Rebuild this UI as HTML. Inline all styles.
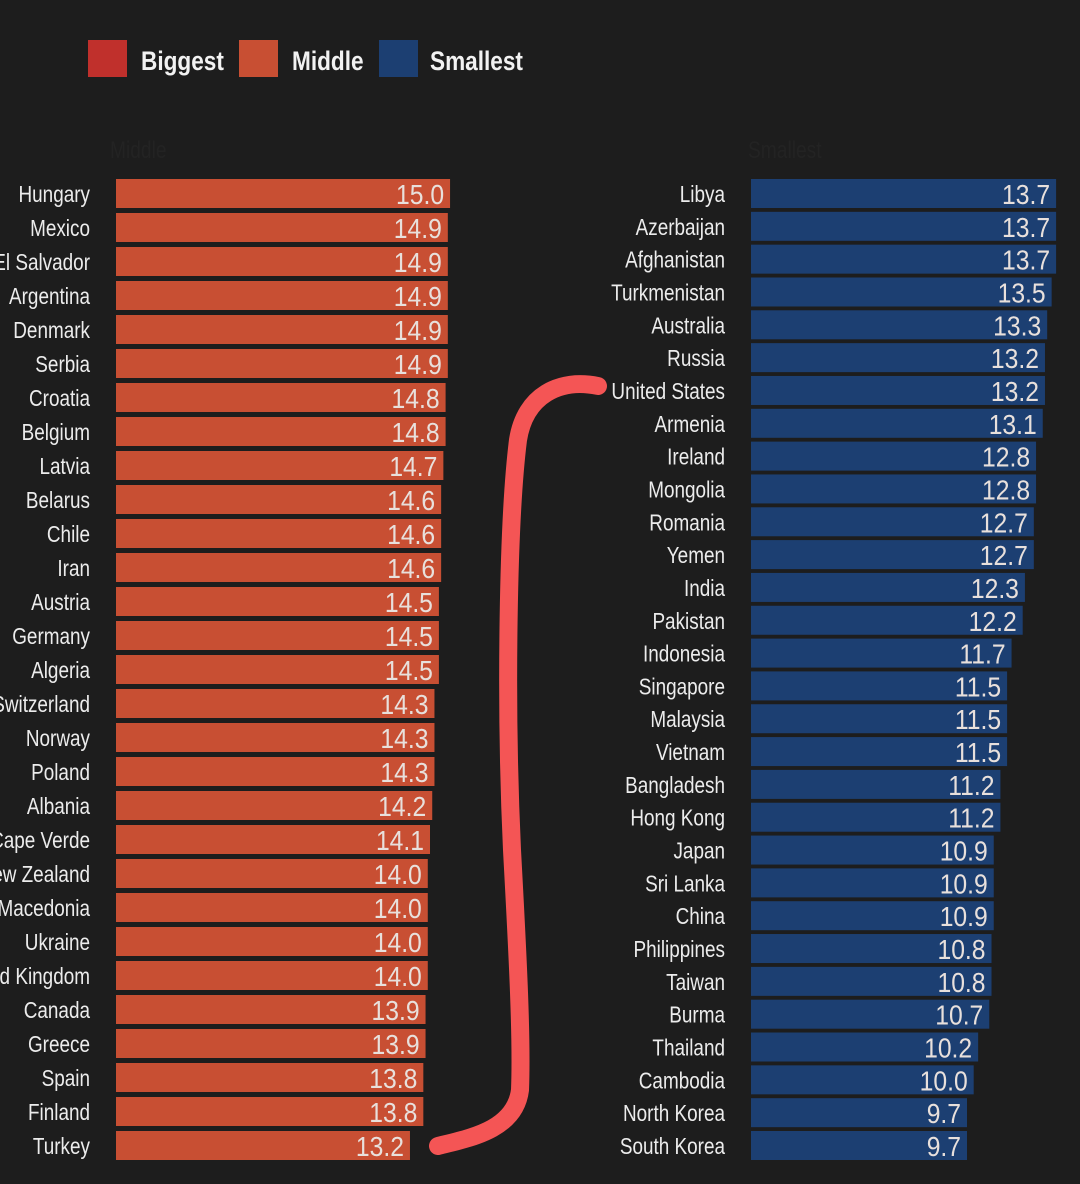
<!DOCTYPE html>
<html><head><meta charset="utf-8"><style>
html,body{margin:0;padding:0;background:#1d1d1d;}
svg{display:block;font-family:"Liberation Sans Narrow","Liberation Sans",sans-serif;}
</style></head><body>
<svg id="c" width="1080" height="1184" viewBox="0 0 1080 1184">
<rect width="1080" height="1184" fill="#1d1d1d"/>
<g>
<rect x="88" y="40" width="39" height="37" fill="#c0302c"/>
<text transform="translate(141,70) scale(0.87,1.05)" fill="#f2f2f2" font-size="26" font-weight="bold">Biggest</text>
<rect x="239" y="40" width="39" height="37" fill="#c84f33"/>
<text transform="translate(292,70) scale(0.87,1.05)" fill="#f2f2f2" font-size="26" font-weight="bold">Middle</text>
<rect x="379" y="40" width="39" height="37" fill="#1c3f72"/>
<text transform="translate(430,70) scale(0.87,1.05)" fill="#f2f2f2" font-size="26" font-weight="bold">Smallest</text>
</g>
<text transform="translate(110,158) scale(0.8,1)" fill="#232323" font-size="24">Middle</text>
<text transform="translate(748,158) scale(0.8,1)" fill="#232323" font-size="24">Smallest</text>
<g id="bars"></g>
<path d="M598,386 C560,378 525,395 518,440 C508,520 505,700 512,850 C518,960 522,1040 520,1090 C515,1130 470,1138 438,1146" fill="none" stroke="#f45555" stroke-width="18" stroke-linecap="round"/>
</svg>
<script>
const leftCountries=["Hungary","Mexico","El Salvador","Argentina","Denmark","Serbia","Croatia","Belgium","Latvia","Belarus","Chile","Iran","Austria","Germany","Algeria","Switzerland","Norway","Poland","Albania","Cape Verde","New Zealand","Macedonia","Ukraine","United Kingdom","Canada","Greece","Spain","Finland","Turkey"];
const leftValues=[15.0,14.9,14.9,14.9,14.9,14.9,14.8,14.8,14.7,14.6,14.6,14.6,14.5,14.5,14.5,14.3,14.3,14.3,14.2,14.1,14.0,14.0,14.0,14.0,13.9,13.9,13.8,13.8,13.2];
const rightCountries=["Libya","Azerbaijan","Afghanistan","Turkmenistan","Australia","Russia","United States","Armenia","Ireland","Mongolia","Romania","Yemen","India","Pakistan","Indonesia","Singapore","Malaysia","Vietnam","Bangladesh","Hong Kong","Japan","Sri Lanka","China","Philippines","Taiwan","Burma","Thailand","Cambodia","North Korea","South Korea"];
const rightValues=[13.7,13.7,13.7,13.5,13.3,13.2,13.2,13.1,12.8,12.8,12.7,12.7,12.3,12.2,11.7,11.5,11.5,11.5,11.2,11.2,10.9,10.9,10.9,10.8,10.8,10.7,10.2,10.0,9.7,9.7];
const NS="http://www.w3.org/2000/svg";
const g=document.getElementById('bars');
const unit=22.27;
function xLen(v){return v*unit;}
function yPos(i,n){return 194+i*(952/(n-1));}
function draw(countries,values,x0,labelX,color){
  const n=countries.length;
  countries.forEach((c,i)=>{
    const yc=yPos(i,n);
    const r=document.createElementNS(NS,'rect');
    r.setAttribute('x',x0);r.setAttribute('y',yc-15);
    r.setAttribute('width',xLen(values[i]));r.setAttribute('height',29);
    r.setAttribute('fill',color);
    
    
    g.appendChild(r);
    const t=document.createElementNS(NS,'text');
    t.setAttribute('transform','translate('+labelX+','+(yc+8)+') scale(0.86,1.05)');
    t.setAttribute('text-anchor','end');t.setAttribute('fill','#ececec');t.setAttribute('font-size','22');
    t.textContent=c;
    
    
    g.appendChild(t);
    const v=document.createElementNS(NS,'text');
    v.setAttribute('transform','translate('+(x0+xLen(values[i])-6)+','+(yc+10)+') scale(0.95,1.05)');
    v.setAttribute('text-anchor','end');v.setAttribute('fill','#e8e0dc');v.setAttribute('font-size','26');
    v.textContent=values[i].toFixed(1);
    
    
    g.appendChild(v);
  });
}
draw(leftCountries,leftValues,116,90,'#c84f33');
draw(rightCountries,rightValues,751,725,'#1c3f72');
</script>
</body></html>
